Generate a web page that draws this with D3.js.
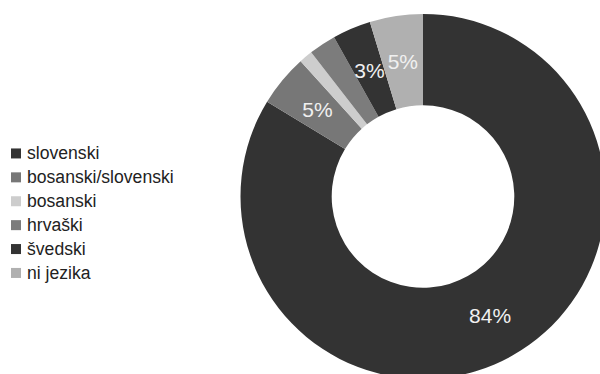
<!DOCTYPE html>
<html>
<head>
<meta charset="utf-8">
<script src="https://cdn.jsdelivr.net/npm/d3@7"></script>
<style>
  html, body { margin: 0; padding: 0; background: #fff; }
  svg { display: block; }
</style>
</head>
<body>
<svg id="chart" width="600" height="374"></svg>
<script>
// Language spoken at home, share of respondents (%)
const categories = ["slovenski", "bosanski/slovenski", "bosanski", "hrvaški", "švedski", "ni jezika"];
const values = [83.7, 4.6, 1.2, 2.4, 3.4, 4.7];
const colors = ["#333333", "#777777", "#cdcdcd", "#7c7c7c", "#333333", "#b0b0b0"];

const data = categories.map((c, i) => ({ name: c, value: values[i] }));

const svg = d3.select("#chart");

const cx = 423, cy = 196.5;
const outerR = 182.5, innerR = 91.3;

const color = d3.scaleOrdinal().domain(categories).range(colors);

const pie = d3.pie().sort(null).value(d => d.value);
const arc = d3.arc().innerRadius(innerR).outerRadius(outerR);

const g = svg.append("g").attr("transform", `translate(${cx},${cy})`);
const arcs = pie(data);

g.selectAll("path.slice")
  .data(arcs)
  .join("path")
  .attr("class", "slice")
  .attr("d", arc)
  .attr("fill", d => color(d.data.name));

// Percentage labels on the larger slices
g.selectAll("text.pct")
  .data(arcs.filter(d => d.data.value >= 3))
  .join("text")
  .attr("class", "pct")
  .attr("transform", d => `translate(${arc.centroid(d)})`)
  .attr("text-anchor", "middle")
  .attr("dominant-baseline", "central")
  .attr("font-family", "'Liberation Sans', Arial, sans-serif")
  .attr("font-size", 21)
  .attr("fill", "#f0f0f0")
  .text(d => Math.round(d.data.value) + "%");

// Legend
const legendY = d3.scaleBand()
  .domain(categories)
  .range([141.5, 141.5 + 23.9 * categories.length]);

const legend = svg.append("g");
const items = legend.selectAll("g.item")
  .data(categories)
  .join("g")
  .attr("class", "item")
  .attr("transform", d => `translate(0,${legendY(d) + legendY.bandwidth() / 2})`);

items.append("rect")
  .attr("x", 11)
  .attr("y", -5)
  .attr("width", 10)
  .attr("height", 10)
  .attr("fill", d => color(d));

items.append("text")
  .attr("x", 27)
  .attr("y", 6)
  .attr("font-family", "'Liberation Sans', Arial, sans-serif")
  .attr("font-size", 17.6)
  .attr("fill", "#222")
  .text(d => d);
</script>
</body>
</html>
